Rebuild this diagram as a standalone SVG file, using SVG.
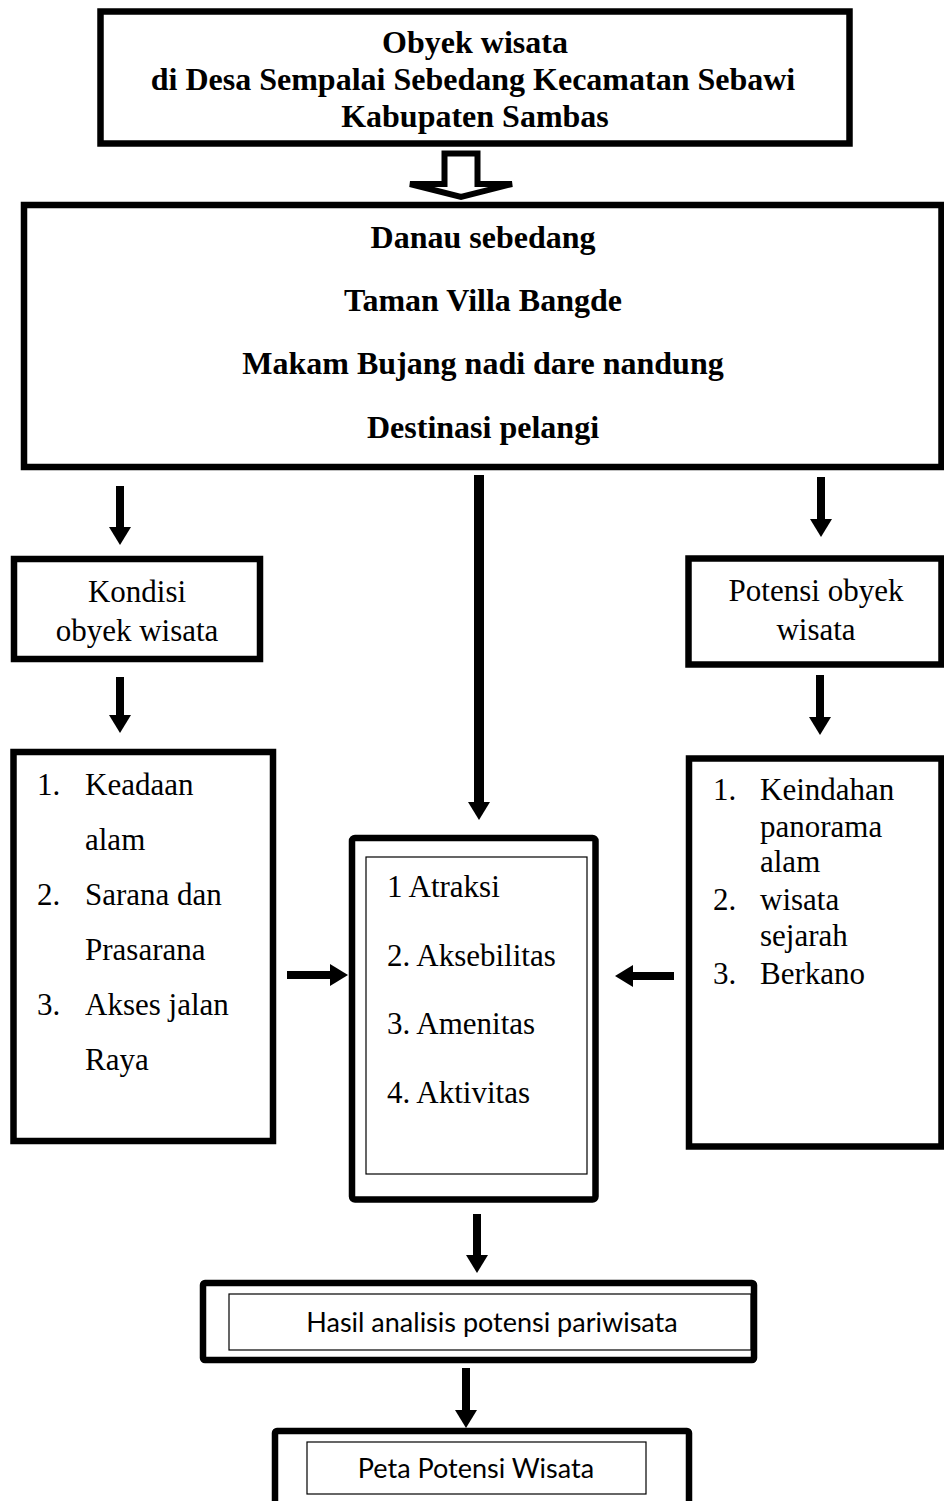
<svg xmlns="http://www.w3.org/2000/svg" width="944" height="1501" viewBox="0 0 944 1501">
<style>
.box{fill:#fff;stroke:#000;stroke-width:6.5}
.thin{fill:none;stroke:#000;stroke-width:1.2}
.serif{font-family:"Liberation Serif","Times New Roman",serif;font-size:31px;fill:#000}
.b{font-weight:bold;font-size:32px}
.sans{font-family:Lato,"Liberation Sans",sans-serif;font-size:27px;fill:#000}
.con{stroke:#000;stroke-width:8;fill:none;marker-end:url(#ah)}
</style>
<defs>
<marker id="ah" markerUnits="userSpaceOnUse" viewBox="0 0 18 22" markerWidth="18" markerHeight="22" refX="0" refY="11" orient="auto">
<path d="M0,0 L18,11 L0,22 z" fill="#000"/>
</marker>
</defs>
<rect width="944" height="1501" fill="#fff"/>

<g id="n-top">
<rect class="box" x="100.5" y="11.5" width="749" height="132"/>
<text class="serif b" text-anchor="middle" x="475" y="53">Obyek wisata</text>
<text class="serif b" text-anchor="middle" x="473" y="90">di Desa Sempalai Sebedang Kecamatan Sebawi</text>
<text class="serif b" text-anchor="middle" x="475" y="127">Kabupaten Sambas</text>
</g>

<g id="n-main">
<rect class="box" x="24" y="205" width="917.5" height="262"/>
<text class="serif b" text-anchor="middle" x="483" y="248">Danau sebedang</text>
<text class="serif b" text-anchor="middle" x="483" y="311">Taman Villa Bangde</text>
<text class="serif b" text-anchor="middle" x="483" y="374">Makam Bujang nadi dare nandung</text>
<text class="serif b" text-anchor="middle" x="483" y="438">Destinasi pelangi</text>
</g>

<g id="n-kondisi">
<rect class="box" x="14" y="559" width="246" height="100"/>
<text class="serif" text-anchor="middle" x="137" y="602">Kondisi</text>
<text class="serif" text-anchor="middle" x="137" y="641">obyek wisata</text>
</g>

<g id="n-potensi">
<rect class="box" x="688.5" y="558.5" width="253" height="106"/>
<text class="serif" text-anchor="middle" x="816" y="601">Potensi obyek</text>
<text class="serif" text-anchor="middle" x="816" y="640">wisata</text>
</g>

<g id="n-kondisi-list">
<rect class="box" x="13.5" y="752" width="259.5" height="389"/>
<text class="serif" x="37" y="795">1.</text><text class="serif" x="85" y="795">Keadaan</text>
<text class="serif" x="85" y="850">alam</text>
<text class="serif" x="37" y="905">2.</text><text class="serif" x="85" y="905">Sarana dan</text>
<text class="serif" x="85" y="960">Prasarana</text>
<text class="serif" x="37" y="1015">3.</text><text class="serif" x="85" y="1015">Akses jalan</text>
<text class="serif" x="85" y="1070">Raya</text>
</g>

<g id="n-potensi-list">
<rect class="box" x="689" y="758.5" width="252.5" height="388"/>
<text class="serif" x="713" y="800">1.</text><text class="serif" x="760" y="800">Keindahan</text>
<text class="serif" x="760" y="837">panorama</text>
<text class="serif" x="760" y="872">alam</text>
<text class="serif" x="713" y="910">2.</text><text class="serif" x="760" y="910">wisata</text>
<text class="serif" x="760" y="946">sejarah</text>
<text class="serif" x="713" y="984">3.</text><text class="serif" x="760" y="984">Berkano</text>
</g>

<g id="n-center">
<rect class="box" x="352" y="838" width="243.5" height="361.5" rx="3"/>
<rect class="thin" x="366" y="857" width="221" height="317"/>
<text class="serif" x="387" y="897">1 Atraksi</text>
<text class="serif" x="387" y="966">2. Aksebilitas</text>
<text class="serif" x="387" y="1034">3. Amenitas</text>
<text class="serif" x="387" y="1103">4. Aktivitas</text>
</g>

<g id="n-hasil">
<rect class="box" x="203" y="1283" width="551" height="77" rx="2"/>
<rect class="thin" x="229" y="1294" width="522" height="56"/>
<text class="sans" text-anchor="middle" x="492" y="1332">Hasil analisis potensi pariwisata</text>
</g>

<g id="n-peta">
<rect class="box" x="275" y="1431" width="414" height="90" rx="2"/>
<rect class="thin" x="307" y="1442" width="339" height="52"/>
<text class="sans" text-anchor="middle" x="476" y="1478">Peta Potensi Wisata</text>
</g>

<g id="connectors">
<polygon points="444.5,153.5 477.5,153.5 477.5,184 512,184 461,197 410,184 444.5,184" fill="#fff" stroke="#000" stroke-width="6" stroke-linejoin="miter"/>
<line class="con" x1="120" y1="486" x2="120" y2="527"/>
<line class="con" x1="821" y1="477" x2="821" y2="519"/>
<line class="con" style="stroke-width:10" x1="479" y1="475" x2="479" y2="802"/>
<line class="con" x1="120" y1="677" x2="120" y2="715"/>
<line class="con" x1="820" y1="675" x2="820" y2="717"/>
<line class="con" x1="287" y1="975" x2="330" y2="975"/>
<line class="con" x1="674" y1="976" x2="633" y2="976"/>
<line class="con" x1="477" y1="1214" x2="477" y2="1255"/>
<line class="con" x1="466" y1="1368" x2="466" y2="1410"/>
</g>
</svg>
